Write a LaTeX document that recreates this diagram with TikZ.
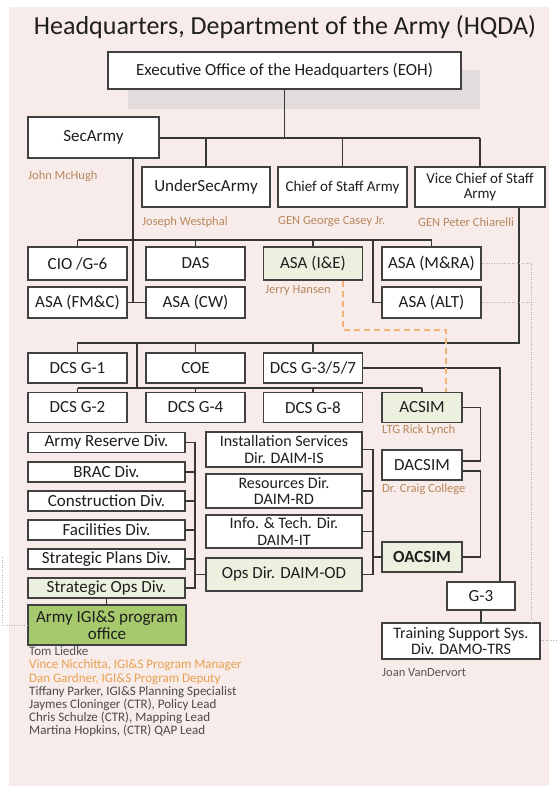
\documentclass[tikz,border=0pt]{standalone}
\usepackage{fontspec}
\setmainfont{Carlito}
\definecolor{bgpink}{RGB}{247,236,233}
\definecolor{shadowgray}{RGB}{226,220,220}
\definecolor{boxline}{RGB}{65,65,65}
\definecolor{linec}{RGB}{55,55,55}
\definecolor{textc}{RGB}{30,30,30}
\definecolor{lightgreen}{RGB}{235,241,222}
\definecolor{igisgreen}{RGB}{166,201,110}
\definecolor{namec}{RGB}{184,135,94}
\definecolor{grayname}{RGB}{85,85,85}
\definecolor{orangename}{RGB}{232,160,80}
\definecolor{dashorange}{RGB}{244,177,120}
\definecolor{dotc}{RGB}{175,175,175}
\tikzset{
  box/.style={draw=boxline, line width=1.7pt, fill=white, inner sep=0pt, align=center,
    text=textc, font=\fontsize{17}{14}\selectfont},
  thickbox/.style={box, line width=2.8pt},
  gbox/.style={box, fill=lightgreen},
  twoline/.style={font=\fontsize{16}{16.5}\selectfont},
  person/.style={anchor=west, inner sep=0pt, text=namec, font=\fontsize{12.5}{13}\selectfont},
  conn/.style={draw=linec, line width=1.2pt},
  dashlink/.style={draw=dashorange, line width=2pt, dash pattern=on 6pt off 4pt},
  dotlink/.style={draw=dotc, line width=1pt, dash pattern=on 1pt off 1.5pt},
}
\begin{document}
\begin{tikzpicture}[x=1pt,y=-1pt]
\useasboundingbox (0,0) rectangle (557,793);
\fill[white] (0,0) rectangle (557,793);
\fill[bgpink] (8.5,7) rectangle (549,786);

% title
\node[inner sep=0pt, text=textc, font=\fontsize{26}{30}\selectfont] (title) at (285,27) {Headquarters, Department of the Army (HQDA)};

% top level
\fill[shadowgray] (128,70) rectangle (480,109);
\node[thickbox, minimum width=353, minimum height=37] (eoh) at (284.5,70.5) {Executive Office of the Headquarters (EOH)};
\node[thickbox, minimum width=131, minimum height=41] (sec) at (93.5,137.5) {SecArmy};
\node[thickbox, minimum width=128, minimum height=40] (usec) at (206,187) {UnderSecArmy};
\node[thickbox, minimum width=129, minimum height=40, font=\fontsize{15}{13}\selectfont] (cos) at (342.5,187) {Chief of Staff Army};
\node[thickbox, minimum width=130, minimum height=40, font=\fontsize{15}{15}\selectfont] (vcos) at (480,187) {Vice Chief of Staff\\Army};

\node[person] (nsec) at (28,176) {John McHugh};
\node[person] (nusec) at (142,222) {Joseph Westphal};
\node[person] (ncos) at (278,222) {GEN George Casey Jr.};
\node[person] (nvcos) at (418,222) {GEN Peter Chiarelli};

% ASA rows
\node[box, minimum width=99, minimum height=33] (cio) at (77.5,263.5) {CIO /G-6};
\node[box, minimum width=99, minimum height=33] (das) at (195.5,263.5) {DAS};
\node[gbox, minimum width=99, minimum height=33] (ie) at (313,263.5) {ASA (I\&E)};
\node[box, minimum width=99, minimum height=33] (mra) at (431.5,263.5) {ASA (M\&RA)};
\node[box, minimum width=99, minimum height=31] (fmc) at (77.5,302.5) {ASA (FM\&C)};
\node[box, minimum width=99, minimum height=31] (cw) at (195.5,302.5) {ASA (CW)};
\node[box, minimum width=99, minimum height=31] (alt) at (431.5,302.5) {ASA (ALT)};
\node[person] (nie) at (265,290) {Jerry Hansen};

% DCS rows
\node[box, minimum width=99, minimum height=30] (g1) at (77.5,368) {DCS G-1};
\node[box, minimum width=99, minimum height=30] (coe) at (195.5,368) {COE};
\node[box, minimum width=99, minimum height=30] (g357) at (313,368) {DCS G-3/5/7};
\node[box, minimum width=99, minimum height=30] (g2) at (77.5,407.5) {DCS G-2};
\node[box, minimum width=99, minimum height=30] (g4) at (195.5,407.5) {DCS G-4};
\node[box, minimum width=99, minimum height=30] (g8) at (313,407.5) {DCS G-8};
\node[gbox, minimum width=80, minimum height=30] (acsim) at (422,407.5) {ACSIM};
\node[person] (nacsim) at (382,430) {LTG Rick Lynch};
\node[box, minimum width=80, minimum height=30] (dacsim) at (422,465) {DACSIM};
\node[person] (ndacsim) at (382,489) {Dr. Craig College};
\node[gbox, minimum width=80, minimum height=30, font=\fontsize{17}{14}\selectfont\bfseries] (oacsim) at (422,557) {OACSIM};

% divisions
\node[box, minimum width=157, minimum height=20] (ard) at (106.5,442.5) {Army Reserve Div.};
\node[box, minimum width=157, minimum height=20] (brac) at (106.5,472) {BRAC Div.};
\node[box, minimum width=157, minimum height=20] (con) at (106.5,501) {Construction Div.};
\node[box, minimum width=157, minimum height=20] (fac) at (106.5,530) {Facilities Div.};
\node[box, minimum width=157, minimum height=20] (spd) at (106.5,559) {Strategic Plans Div.};
\node[gbox, minimum width=157, minimum height=20] (sod) at (106.5,588) {Strategic Ops Div.};
\node[thickbox, fill=igisgreen, line width=2.4pt, minimum width=158, minimum height=40, font=\fontsize{17}{16.5}\selectfont] (igis) at (107,625) {Army IGI\&S program\\office};

% directorates
\node[box, twoline, minimum width=156, minimum height=35] (isd) at (284,449.5) {Installation Services\\Dir. DAIM-IS};
\node[box, twoline, minimum width=156, minimum height=34] (resd) at (284,491) {Resources Dir.\\DAIM-RD};
\node[box, twoline, minimum width=156, minimum height=33] (itd) at (284,531.5) {Info. \& Tech. Dir.\\DAIM-IT};
\node[gbox, minimum width=156, minimum height=33] (opsd) at (284,574.5) {Ops Dir. DAIM-OD};

% G-3 and TSS
\node[box, minimum width=68, minimum height=28] (g3) at (481,596) {G-3};
\node[box, twoline, minimum width=158, minimum height=36] (tss) at (461,641) {Training Support Sys.\\Div. DAMO-TRS};
\node[person, text=grayname] (ntss) at (382,673) {Joan VanDervort};

% staff list
\node[anchor=north west, inner sep=0pt, align=left, text=grayname, font=\fontsize{13}{13.2}\selectfont] (staff) at (29,646.5)
{Tom Liedke\\
\textcolor{orangename}{Vince Nicchitta, IGI\&S Program Manager}\\
\textcolor{orangename}{Dan Gardner, IGI\&S Program Deputy}\\
\textcolor{textc!80}{Tiffany Parker, IGI\&S Planning Specialist}\\
\textcolor{textc!80}{Jaymes Cloninger (CTR), Policy Lead}\\
\textcolor{textc!80}{Chris Schulze (CTR), Mapping Lead}\\
\textcolor{textc!80}{Martina Hopkins, (CTR) QAP Lead}};

% ---------- connectors ----------
% EOH bus
\coordinate (busA) at (284.5,138);
\draw[conn] (eoh.south) -- (busA);
\draw[conn] (sec.east |- busA) -- (vcos.north |- busA);
\draw[conn] (usec.north |- busA) -- (usec.north);
\draw[conn] (cos.north |- busA) -- (cos.north);
\draw[conn] (vcos.north |- busA) -- (vcos.north);

% SecArmy vertical to ASA rows
\coordinate (sv) at (133,302.5);
\draw[conn] (sec.south -| sv) -- (sv);
\draw[conn] (fmc.east) -- (cw.west);

% ASA bus
\coordinate (busB) at (77.5,240);
\draw[conn] (cio.north |- busB) -- (mra.north |- busB);
\draw[conn] (cio.north |- busB) -- (cio.north);
\draw[conn] (das.north |- busB) -- (das.north);
\draw[conn] (ie.north |- busB) -- (ie.north);
\draw[conn] (mra.north |- busB) -- (mra.north);
\coordinate (altj) at (373,240);
\draw[conn] (altj) -- (altj |- alt.west) -- (alt.west);

% DCS bus
\coordinate (busC) at (519,343);
\draw[conn] (vcos.south -| busC) -- (busC) -- (g1.north |- busC) -- (g1.north);
\draw[conn] (coe.north |- busC) -- (coe.north);
\draw[conn] (g357.north |- busC) -- (g357.north);
\coordinate (busD) at (137,388);
\draw[conn] (busD |- busC) -- (busD);
\draw[conn] (g2.north |- busD) -- (acsim.north |- busD);
\draw[conn] (g2.north |- busD) -- (g2.north);
\draw[conn] (g4.north |- busD) -- (g4.north);
\draw[conn] (g8.north |- busD) -- (g8.north);
\draw[conn] (acsim.north |- busD) -- (acsim.north);

% G-3/5/7 to G-3 to TSS
\coordinate (g3j) at (500,368);
\draw[conn] (g357.east) -- (g3j) -- (g3j |- g3.north);
\draw[conn] (g3.south) -- (g3.south |- tss.north);

% ACSIM - DACSIM - OACSIM brackets
\draw[conn] (acsim.east) -- ++(18,0) |- ([yshift=4pt]dacsim.east);
\draw[conn] ([yshift=-6pt]dacsim.east) -- ++(18,0) |- (oacsim.east);

% divisions bracket
\coordinate (lb) at (195,442.5);
\draw[conn] (ard.east) -- (lb) -- (lb |- sod.east) -- (sod.east);
\draw[conn] (brac.east) -- (brac.east -| lb);
\draw[conn] (con.east) -- (con.east -| lb);
\draw[conn] (fac.east) -- (fac.east -| lb);
\draw[conn] (spd.east) -- (spd.east -| lb);
\draw[conn] (opsd.west) -- (opsd.west -| lb);
\draw[conn] (sod.south) -- (sod.south |- igis.north);

% directorates bracket
\coordinate (rb) at (373,449.5);
\draw[conn] (isd.east) -- (rb) -- (rb |- opsd.east) -- (opsd.east);
\draw[conn] (resd.east) -- (resd.east -| rb);
\draw[conn] (itd.east) -- (itd.east -| rb);
\draw[conn] (oacsim.west) -- (oacsim.west -| rb);

% orange dashed link
\coordinate (d1) at (343,330);
\coordinate (d2) at (446,330);
\draw[dashlink] (ie.south -| d1) -- (d1) -- (d2) -- (d2 |- acsim.north);

% dotted links
\coordinate (dr) at (531,263.5);
\coordinate (dedge) at (557,640);
\coordinate (dl) at (2,557);
\draw[dotlink] (mra.east) -- (dr) -- (dr |- tss.north);
\draw[dotlink] (alt.east) -- (alt.east -| dr);
\draw[dotlink] (tss.east |- dedge) -- (dedge);
\draw[dotlink] (dl) -- (dl |- igis.west) -- (igis.west);
\end{tikzpicture}
\end{document}
